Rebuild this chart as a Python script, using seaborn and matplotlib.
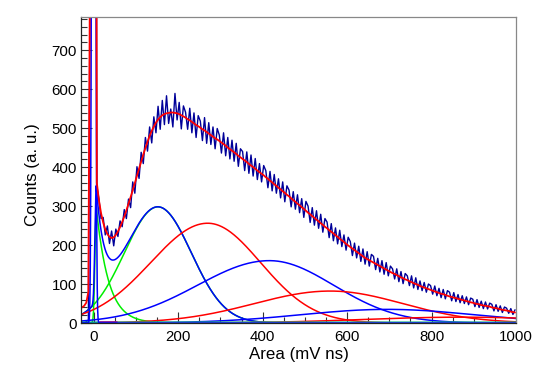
import numpy as np
import pandas as pd
import seaborn as sns
import matplotlib.pyplot as plt
from matplotlib.ticker import MultipleLocator

sns.set_style('ticks')
plt.rcParams['font.family'] = ['Liberation Sans', 'DejaVu Sans']
plt.rcParams['text.color'] = 'black'
plt.rcParams['axes.labelcolor'] = 'black'
plt.rcParams['xtick.color'] = 'black'
plt.rcParams['ytick.color'] = 'black'

# histogram: 5 mV ns bins starting at -30
bin_lo = -30
bin_w = 5

counts = [
    2, 1, 3, 8, 1100, 3800, 3900, 352, 318, 268,
    271, 226, 249, 204, 236, 198, 241, 222, 262, 247,
    291, 268, 318, 296, 362, 333, 401, 371, 438, 409,
    476, 441, 503, 462, 529, 488, 556, 497, 571, 509,
    583, 512, 549, 503, 589, 521, 566, 498, 557, 541,
    497, 551, 488, 539, 476, 532, 518, 468, 527, 461,
    514, 458, 503, 447, 499, 482, 436, 488, 429, 476,
    421, 469, 415, 461, 402, 447, 440, 391, 439, 384,
    431, 377, 422, 368, 409, 362, 404, 391, 347, 389,
    339, 381, 333, 370, 321, 362, 311, 352, 341, 298,
    337, 292, 329, 283, 319, 271, 312, 300, 258, 296,
    251, 288, 243, 279, 233, 268, 259, 219, 255, 211,
    244, 203, 238, 196, 226, 187, 220, 209, 173, 205,
    167, 197, 158, 190, 151, 183, 146, 176, 171, 137,
    166, 131, 160, 125, 155, 121, 146, 139, 113, 139,
    106, 132, 101, 127, 121, 96, 121, 90, 116, 86,
    108, 83, 104, 79, 100, 96, 74, 95, 70, 89,
    65, 86, 62, 83, 79, 57, 78, 55, 73, 52,
    70, 50, 67, 47, 64, 61, 42, 60, 40, 56,
    37, 54, 36, 51, 48, 31, 47, 30, 44, 27,
    41, 38, 25, 37, 22, 34,
]

# total fit, same bins
total_fit = [
    40, 44, 52, 80, 1200, 4000, 4000, 360, 315, 282,
    258, 240, 228, 221, 218, 220, 226, 235, 246, 259,
    273, 289, 306, 323, 341, 359, 378, 396, 414, 432,
    449, 465, 480, 493, 504, 514, 522, 528, 533, 536,
    538, 539, 540, 540, 539, 538, 536, 533, 530, 527,
    523, 520, 516, 512, 508, 505, 501, 497, 494, 490,
    486, 482, 478, 474, 471, 467, 463, 459, 455, 450,
    446, 442, 438, 434, 429, 425, 421, 417, 413, 408,
    404, 400, 396, 391, 387, 383, 379, 374, 370, 365,
    361, 356, 352, 347, 343, 338, 334, 329, 325, 320,
    315, 311, 306, 302, 297, 293, 288, 283, 279, 274,
    270, 265, 261, 256, 252, 247, 243, 238, 234, 230,
    225, 221, 216, 212, 208, 203, 199, 195, 191, 187,
    183, 179, 175, 171, 167, 164, 161, 158, 155, 152,
    149, 146, 143, 140, 137, 134, 131, 128, 126, 123,
    120, 117, 115, 112, 110, 107, 105, 102, 100, 98,
    95, 93, 91, 89, 87, 85, 83, 81, 79, 77,
    75, 74, 72, 70, 68, 67, 65, 64, 62, 61,
    59, 58, 56, 55, 53, 52, 50, 49, 48, 46,
    45, 44, 43, 42, 40, 39, 38, 37, 35, 34,
    33, 32, 31, 29, 28, 27,
]

# n-photoelectron gaussian components
pe_mean = [152, 270, 416, 560, 695, 870]
pe_height = [298, 256, 160, 82, 35, 15]
pe_sigma_left = [79, 135, 170, 180, 205, 230]
pe_sigma_right = [79, 125, 152, 172, 205, 230]
pe_color = ['#0000ff', '#ff0000', '#0000ff', '#ff0000', '#0000ff', '#ff0000']

# pedestal + exponential peak near zero
ped_mean, ped_height, ped_sigma = 0, 5000, 3
exp_peak, exp_height, exp_decay, exp_rise = 6, 298, 29, 3
blue_decay = 20

# tiny higher order terms lying on the baseline
base_level = [2, 1, 2]
base_from = [-30, 40, 14]
base_to = [1000, 1000, 55]
base_color = ['#009999', '#66ff66', '#990099']


def gaus(x, m, h, s):
    return h * np.exp(-0.5 * ((x - m) / s) ** 2)


def gaus2(x, m, h, sl, sr):
    return np.where(x < m, gaus(x, m, h, sl), gaus(x, m, h, sr))


def peak_exp(x, decay):
    return np.where(x < exp_peak,
                    gaus(x, exp_peak, exp_height, exp_rise),
                    exp_height * np.exp(-(x - exp_peak) / decay))


n = min(len(counts), len(total_fit))
centers = bin_lo + bin_w * (np.arange(n) + 0.5)
df = pd.DataFrame({'area': centers, 'counts': counts[:n], 'fit': total_fit[:n]})

xs = np.linspace(-30, 1000, 2061)

fig = plt.figure(figsize=(5.6, 3.88), dpi=100)
ax = fig.add_axes([0.1446, 0.1675, 0.777, 0.7886])

sns.lineplot(data=df, x='area', y='counts', color='#000099', lw=1.0,
             estimator=None, ax=ax)

# green: exponential part and 1 p.e. alone
g1 = gaus2(xs, pe_mean[0], pe_height[0], pe_sigma_left[0], pe_sigma_right[0])
sns.lineplot(x=xs, y=peak_exp(xs, exp_decay), color='#00ee00', lw=1.1,
             estimator=None, ax=ax)
sns.lineplot(x=xs, y=g1, color='#00ee00', lw=1.1, estimator=None, ax=ax)

for i in range(len(pe_mean)):
    y = gaus2(xs, pe_mean[i], pe_height[i], pe_sigma_left[i], pe_sigma_right[i])
    if i == 0:
        y = y + peak_exp(xs, blue_decay)
    sns.lineplot(x=xs, y=y, color=pe_color[i], lw=1.1, estimator=None, ax=ax)

for lv, a, b, c in zip(base_level, base_from, base_to, base_color):
    sel = (xs >= a) & (xs <= b)
    sns.lineplot(x=xs[sel], y=np.full(sel.sum(), lv), color=c, lw=1.1,
                 estimator=None, ax=ax)

sns.lineplot(x=xs, y=gaus(xs, ped_mean, ped_height, ped_sigma),
             color='#0000ff', lw=1.1, estimator=None, ax=ax)

sns.lineplot(data=df, x='area', y='fit', color='#ff0000', lw=1.3,
             estimator=None, ax=ax)

ax.set_xlim(-30, 1000)
ax.set_ylim(0, 785)
ax.xaxis.set_major_locator(MultipleLocator(200))
ax.xaxis.set_minor_locator(MultipleLocator(50))
ax.yaxis.set_major_locator(MultipleLocator(100))
ax.yaxis.set_minor_locator(MultipleLocator(20))
ax.tick_params(which='both', direction='in', top=False, right=False,
               labelsize=10.8, width=0.8, color='#333333')
ax.tick_params(axis='x', which='major', length=8, pad=5)
ax.tick_params(axis='y', which='major', length=8, pad=3)
ax.tick_params(which='minor', length=4)

for side in ['top', 'right']:
    ax.spines[side].set_visible(True)
    ax.spines[side].set_color('#888888')
for side in ['left', 'bottom']:
    ax.spines[side].set_color('#222222')
for s in ax.spines.values():
    s.set_linewidth(0.9)

ax.set_xlabel('Area (mV ns)', fontsize=12.2)
ax.set_ylabel('Counts (a. u.)', fontsize=12.2)
ax.xaxis.set_label_coords(0.5, -0.08)
ax.yaxis.set_label_coords(-0.094, 0.484)

fig.savefig('out.png', dpi=100)
